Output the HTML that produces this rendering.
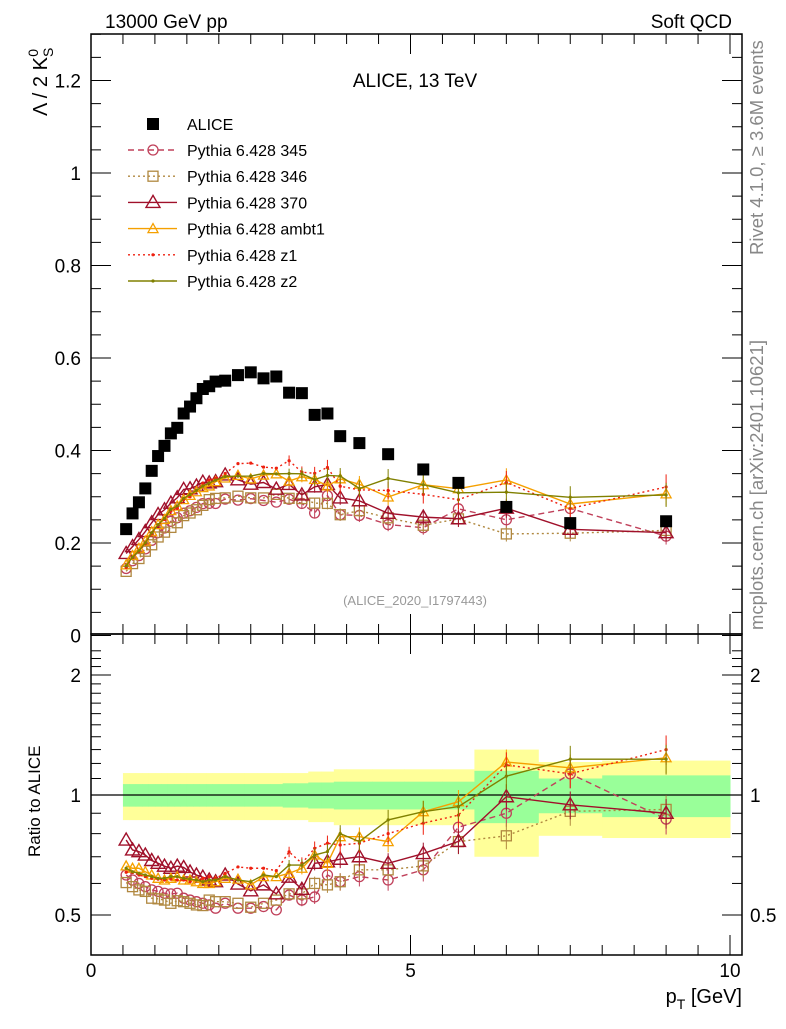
<!DOCTYPE html>
<html><head><meta charset="utf-8"><style>
body{margin:0;background:#fff;}
svg text{font-family:"Liberation Sans",sans-serif;}
</style></head><body>
<svg id="chart" width="786" height="1024" xmlns="http://www.w3.org/2000/svg">
<g id="bands"></g>
<g id="marks"></g>
<g id="axes"></g>
<text x="105" y="28" font-size="19">13000 GeV pp</text>
<text x="732" y="28" font-size="19" text-anchor="end">Soft QCD</text>
<text x="415" y="87" font-size="19" text-anchor="middle">ALICE, 13 TeV</text>
<text x="415" y="605" font-size="13" fill="#999" text-anchor="middle">(ALICE_2020_I1797443)</text>
<text transform="translate(47,116) rotate(-90)" font-size="20">Λ / 2 K<tspan font-size="14" dy="6">S</tspan><tspan font-size="14" dx="-9" dy="-15">0</tspan></text>
<text transform="translate(40,857) rotate(-90)" font-size="17">Ratio to ALICE</text>
<text transform="translate(763,255) rotate(-90)" font-size="18.5" fill="#888">Rivet 4.1.0, ≥ 3.6M events</text>
<text transform="translate(763,630) rotate(-90)" font-size="18.5" fill="#888">mcplots.cern.ch [arXiv:2401.10621]</text>
<text x="742" y="1003" font-size="20" text-anchor="end">p<tspan font-size="14" dy="6">T</tspan><tspan dy="-6"> [GeV]</tspan></text>
<g id="legend"></g>
</svg>
<script>
const xs = [0.55,0.65,0.75,0.85,0.95,1.05,1.15,1.25,1.35,1.45,1.55,1.65,1.75,1.85,1.95,2.1,2.3,2.5,2.7,2.9,3.1,3.3,3.5,3.7,3.9,4.2,4.65,5.2,5.75,6.5,7.5,9.0];
const edges = [0.5,0.6,0.7,0.8,0.9,1.0,1.1,1.2,1.3,1.4,1.5,1.6,1.7,1.8,1.9,2.0,2.2,2.4,2.6,2.8,3.0,3.2,3.4,3.6,3.8,4.0,4.4,4.9,5.5,6.0,7.0,8.0,10.0];
const alice = [0.230,0.264,0.288,0.318,0.356,0.388,0.410,0.437,0.449,0.480,0.495,0.513,0.533,0.539,0.549,0.551,0.563,0.569,0.556,0.560,0.525,0.524,0.477,0.480,0.431,0.416,0.392,0.359,0.330,0.278,0.243,0.247];
const errStat = [0.065,0.065,0.065,0.065,0.065,0.065,0.065,0.065,0.065,0.065,0.065,0.065,0.065,0.065,0.065,0.065,0.065,0.065,0.065,0.065,0.07,0.07,0.075,0.075,0.08,0.08,0.08,0.08,0.08,0.15,0.10,0.12];
const errTot = [0.135,0.135,0.135,0.135,0.135,0.135,0.135,0.135,0.135,0.135,0.135,0.135,0.135,0.135,0.135,0.135,0.135,0.135,0.135,0.135,0.135,0.135,0.145,0.145,0.16,0.16,0.16,0.16,0.16,0.30,0.21,0.22];
const r345 = [0.63,0.612,0.60,0.589,0.578,0.573,0.567,0.565,0.567,0.551,0.545,0.54,0.535,0.53,0.52,0.535,0.52,0.52,0.525,0.515,0.561,0.545,0.555,0.63,0.606,0.624,0.612,0.649,0.83,0.90,1.13,0.87];
const r346 = [0.603,0.589,0.578,0.573,0.551,0.549,0.545,0.535,0.543,0.54,0.535,0.53,0.528,0.545,0.54,0.54,0.535,0.523,0.535,0.545,0.565,0.565,0.60,0.595,0.606,0.649,0.649,0.664,0.764,0.79,0.91,0.92];
const r370 = [0.771,0.728,0.721,0.707,0.685,0.674,0.663,0.655,0.663,0.658,0.641,0.63,0.622,0.612,0.606,0.63,0.598,0.575,0.595,0.565,0.622,0.58,0.674,0.68,0.69,0.70,0.674,0.713,0.765,0.99,0.945,0.90];
const rAmbt1 = [0.664,0.655,0.655,0.642,0.63,0.618,0.612,0.618,0.624,0.612,0.612,0.606,0.60,0.60,0.606,0.618,0.615,0.595,0.624,0.624,0.636,0.655,0.707,0.674,0.786,0.786,0.764,0.908,0.962,1.21,1.17,1.24];
const rZ1 = [0.64,0.639,0.63,0.624,0.618,0.615,0.612,0.615,0.612,0.612,0.606,0.612,0.618,0.624,0.618,0.636,0.66,0.655,0.655,0.646,0.72,0.674,0.735,0.757,0.749,0.757,0.80,0.85,0.89,1.19,1.13,1.30];
const rZ2 = [0.655,0.642,0.636,0.63,0.624,0.618,0.618,0.624,0.624,0.618,0.615,0.612,0.606,0.612,0.612,0.624,0.612,0.606,0.63,0.624,0.667,0.667,0.707,0.721,0.80,0.764,0.866,0.908,0.935,1.115,1.23,1.23];
const yTicks = [0,0.2,0.4,0.6,0.8,1,1.2];
const rTicks = [0.5,1,2];
const xTickLabels = [0,5,10];

const NS="http://www.w3.org/2000/svg";
const X=v=>91+v*63.9;
const Y=v=>635.5-v*462.5;
const R=v=>795-120*Math.log2(v);
function mk(tag,at,parent){const e=document.createElementNS(NS,tag);for(const k in at)e.setAttribute(k,at[k]);parent.appendChild(e);return e;}
const bands=document.getElementById('bands'),marks=document.getElementById('marks'),axes=document.getElementById('axes'),legend=document.getElementById('legend');

for(let i=0;i<xs.length;i++){
  const x0=X(edges[i]),x1=X(edges[i+1]);
  let e=mk('rect',{x:x0,y:R(1+errTot[i]),width:x1-x0+0.5,height:R(1-errTot[i])-R(1+errTot[i]),fill:'#ffff99'},bands);
  
  
}
for(let i=0;i<xs.length;i++){
  const x0=X(edges[i]),x1=X(edges[i+1]);
  let e=mk('rect',{x:x0,y:R(1+errStat[i]),width:x1-x0+0.5,height:R(1-errStat[i])-R(1+errStat[i]),fill:'#99ff99'},bands);
  
  
}
let one=mk('line',{x1:91,x2:742,y1:R(1),y2:R(1),stroke:'#000','stroke-width':1.2},bands);



const series=[
 {name:'Pythia 6.428 345',r:r345,c:'#c0405a',dash:'6,4',m:'circle'},
 {name:'Pythia 6.428 346',r:r346,c:'#b08840',dash:'2,3',m:'square'},
 {name:'Pythia 6.428 370',r:r370,c:'#a0102a',dash:'',m:'tri'},
 {name:'Pythia 6.428 ambt1',r:rAmbt1,c:'#f5a000',dash:'',m:'stri'},
 {name:'Pythia 6.428 z1',r:rZ1,c:'#ee2010',dash:'2,3',m:'dot'},
 {name:'Pythia 6.428 z2',r:rZ2,c:'#808000',dash:'',m:'dot'}
];
function marker(m,x,y,c,g){
  let e;
  if(m==='circle')e=mk('circle',{cx:x,cy:y,r:5,fill:'none',stroke:c,'stroke-width':1.3},g);
  else if(m==='square')e=mk('rect',{x:x-5,y:y-5,width:10,height:10,fill:'none',stroke:c,'stroke-width':1.3},g);
  else if(m==='tri')e=mk('path',{d:`M${x},${y-7}L${x+7},${y+5}L${x-7},${y+5}Z`,fill:'none',stroke:c,'stroke-width':1.4},g);
  else if(m==='stri')e=mk('path',{d:`M${x},${y-5}L${x+5},${y+4}L${x-5},${y+4}Z`,fill:'none',stroke:c,'stroke-width':1.3},g);
  else e=mk('circle',{cx:x,cy:y,r:1.6,fill:c},g);
  return e;
}
series.forEach((s,si)=>{
  const g=mk('g',{},marks);
  
  
  const main=s.r.map((r,i)=>r*alice[i]);
  const ptsM=xs.map((x,i)=>X(x)+','+Y(main[i])).join(' ');
  const ptsR=xs.map((x,i)=>X(x)+','+R(s.r[i])).join(' ');
  let l1=mk('polyline',{points:ptsM,fill:'none',stroke:s.c,'stroke-width':1.4,'stroke-dasharray':s.dash},g);
  
  
  let l2=mk('polyline',{points:ptsR,fill:'none',stroke:s.c,'stroke-width':1.4,'stroke-dasharray':s.dash},g);
  
  
  xs.forEach((x,i)=>{
    if(i>=20){
      const er=0.03+0.02*(i-20)/4;
      mk('line',{x1:X(x),x2:X(x),y1:Y(main[i]*(1-er)),y2:Y(main[i]*(1+er)),stroke:s.c,'stroke-width':1},g);
      mk('line',{x1:X(x),x2:X(x),y1:R(s.r[i]*(1-er)),y2:R(s.r[i]*(1+er)),stroke:s.c,'stroke-width':1},g);
    }
    let a=marker(s.m,X(x),Y(main[i]),s.c,g);
    
    
    let b=marker(s.m,X(x),R(s.r[i]),s.c,g);
    
    
  });
});
const ga=mk('g',{},marks);


xs.forEach((x,i)=>{
  let e=mk('rect',{x:X(x)-6,y:Y(alice[i])-6,width:12,height:12,fill:'#000'},ga);
  
  
});

mk('rect',{x:91,y:34,width:651,height:600,fill:'none',stroke:'#000','stroke-width':1.5},axes);
mk('rect',{x:91,y:634,width:651,height:321,fill:'none',stroke:'#000','stroke-width':1.5},axes);
for(let v=0;v<=1.3001;v+=0.05){
  const major=Math.abs(v/0.2-Math.round(v/0.2))<1e-6;
  const L=major?20:10;
  mk('line',{x1:91,x2:91+L,y1:Y(v),y2:Y(v),stroke:'#000','stroke-width':1},axes);
  mk('line',{x1:742,x2:742-L,y1:Y(v),y2:Y(v),stroke:'#000','stroke-width':1},axes);
}
yTicks.forEach(v=>{
  let t=mk('text',{x:81,y:Y(v)+7,'font-size':19,'text-anchor':'end'},axes);
  t.textContent=String(v);
  
  
});
const rMinor=[0.5,0.6,0.7,0.8,0.9,1,1.1,1.2,1.3,1.4,1.5,1.6,1.7,1.8,1.9,2,2.1,2.2,2.3];
rMinor.forEach(v=>{
  const y=R(v); if(y<636||y>953)return;
  const major=rTicks.includes(v);const L=major?20:10;
  mk('line',{x1:91,x2:91+L,y1:y,y2:y,stroke:'#000','stroke-width':1},axes);
  mk('line',{x1:742,x2:742-L,y1:y,y2:y,stroke:'#000','stroke-width':1},axes);
});
rTicks.forEach(v=>{
  let t=mk('text',{x:81,y:R(v)+7,'font-size':19,'text-anchor':'end'},axes);
  t.textContent=String(v);
  
  
  let t2=mk('text',{x:750,y:R(v)+7,'font-size':19},axes);
  t2.textContent=String(v);
  
  
});
for(let v=0;v<=10.01;v+=0.5){
  const major=Math.abs(v-Math.round(v/5)*5)<1e-6;
  const L=major?20:10;
  [[34,1],[634,-1],[634,1],[955,-1]].forEach(([y0,d])=>{
    mk('line',{x1:X(v),x2:X(v),y1:y0,y2:y0+d*L,stroke:'#000','stroke-width':1},axes);
  });
}
xTickLabels.forEach(v=>{
  let t=mk('text',{x:X(v),y:977,'font-size':19,'text-anchor':'middle'},axes);
  t.textContent=String(v);
  
  
});
let ly=124;
let lr=mk('rect',{x:147,y:ly-6,width:12,height:12,fill:'#000'},legend);
let lt=mk('text',{x:187,y:ly+6,'font-size':16},legend);lt.textContent='ALICE';


series.forEach((s,i)=>{
  const y=150+i*26.2;
  mk('line',{x1:128,x2:177,y1:y,y2:y,stroke:s.c,'stroke-width':1.4,'stroke-dasharray':s.dash},legend);
  marker(s.m,153,y,s.c,legend);
  let t=mk('text',{x:187,y:y+6,'font-size':16},legend);
  t.textContent=s.name;
  
  
});
</script>
</body></html>
